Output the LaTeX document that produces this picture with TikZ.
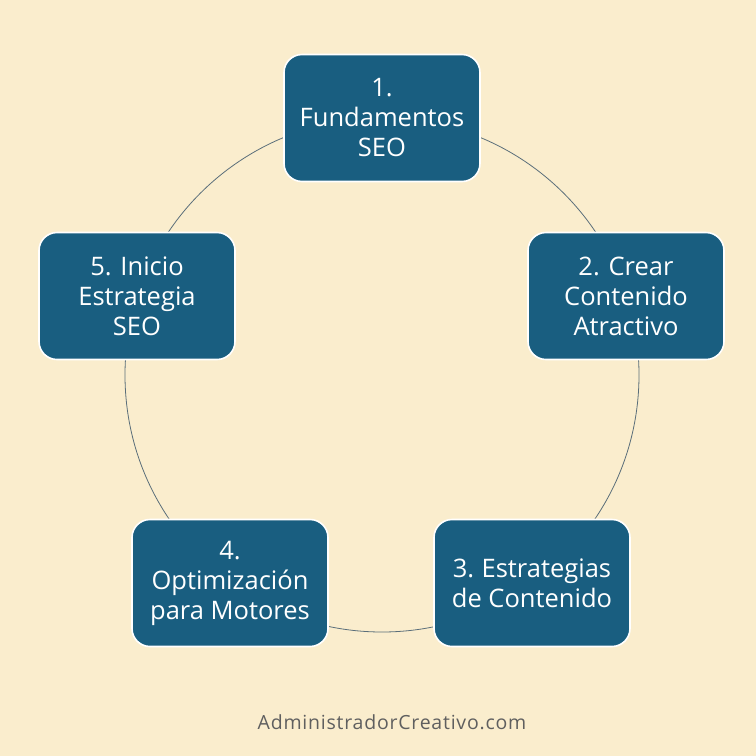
\documentclass[tikz,border=0pt]{standalone}
\usepackage{fontspec}
\setmainfont{Open Sans}
\usetikzlibrary{calc}

\definecolor{papel}{RGB}{250,237,205}
\definecolor{caja}{RGB}{25,94,128}
\definecolor{aro}{RGB}{90,110,122}
\definecolor{firma}{RGB}{95,95,95}

\begin{document}
\begin{tikzpicture}[x=1pt, y=-1pt,
    paso/.style={rectangle, rounded corners=18pt, draw=white, line width=1.6pt,
                 fill=caja, text=white, minimum width=196pt, minimum height=127pt,
                 align=center, font=\fontsize{25.5}{30}\selectfont}]
    \fill[papel] (0,0) rectangle (756,756);
    \useasboundingbox (0,0) rectangle (756,756);

    \coordinate (c) at (382,375);
    \draw[aro, line width=0.8pt] (c) circle (257pt);

    \node[paso] (1) at (382,118) {1.\\Fundamentos\\SEO};
    \node[paso] (2) at (626,296) {2. Crear\\Contenido\\Atractivo};
    \node[paso] (3) at (532,583) {3.\hspace{-1.5pt} Estrategias\\de Contenido};
    \node[paso] (4) at (230,583) {4.\\Optimización\\para Motores};
    \node[paso] (5) at (137,296) {5. Inicio\\Estrategia\\SEO};

    \node[text=firma, font=\fontsize{19.5}{22}\selectfont] (web) at (392,722)
        {\addfontfeature{LetterSpace=4}AdministradorCreativo.com};
\end{tikzpicture}
\end{document}
